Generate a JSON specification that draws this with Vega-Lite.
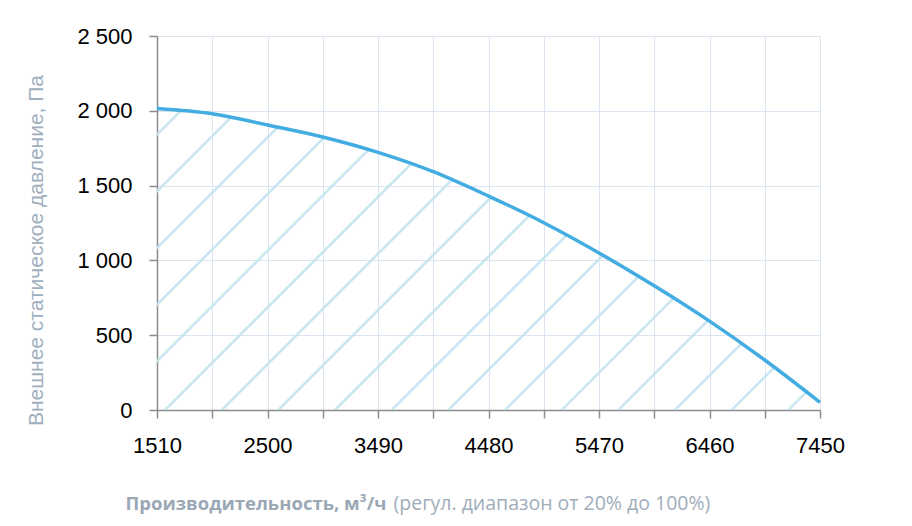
{
  "$schema": "https://vega.github.io/schema/vega-lite/v6.json",
  "width": 663,
  "height": 374,
  "autosize": {"type": "none"},
  "padding": {"left": 157, "top": 36, "right": 92, "bottom": 116},
  "background": "white",
  "config": {
    "view": {"stroke": null},
    "locale": {"number": {"decimal": ",", "thousands": " ", "grouping": [3], "currency": ["", ""]}}
  },
  "data": {
    "values": [
      {"flow": 1510, "pressure": 2015},
      {"flow": 2005, "pressure": 1980},
      {"flow": 2500, "pressure": 1905},
      {"flow": 2995, "pressure": 1825},
      {"flow": 3490, "pressure": 1722},
      {"flow": 3985, "pressure": 1593},
      {"flow": 4480, "pressure": 1430},
      {"flow": 4975, "pressure": 1252},
      {"flow": 5470, "pressure": 1050},
      {"flow": 5965, "pressure": 830},
      {"flow": 6460, "pressure": 594},
      {"flow": 6955, "pressure": 334},
      {"flow": 7450, "pressure": 51}
    ]
  },
  "encoding": {
    "y": {
      "field": "pressure",
      "type": "quantitative",
      "scale": {"domain": [0, 2500], "nice": false},
      "axis": {
        "values": [0, 500, 1000, 1500, 2000, 2500],
        "format": ",d",
        "grid": true,
        "gridColor": "#dbe5f1",
        "gridWidth": 1,
        "domainColor": "#8c8c8c",
        "domainWidth": 1.5,
        "tickColor": "#8c8c8c",
        "tickWidth": 1.5,
        "tickSize": 8,
        "labelFont": "Liberation Sans",
        "labelFontSize": 22,
        "labelColor": "#000000",
        "labelPadding": 17,
        "labelFlush": false,
        "title": "Внешнее статическое давление, Па",
        "titleFont": "Liberation Sans",
        "titleFontSize": 21,
        "titleFontWeight": "normal",
        "titleColor": "#a0afbe",
        "titleAlign": "center",
        "titleBaseline": "middle",
        "titleX": -121,
        "titleY": 214
      }
    }
  },
  "layer": [
    {
      "mark": {
        "type": "area",
        "interpolate": "monotone",
        "fill": {
          "gradient": "linear",
          "x1": 0, "y1": 0, "x2": 1.2055, "y2": 0.5481,
          "stops": [
            {"offset": 0, "color": "rgba(200,228,238,0)"},
            {"offset": 0.02425, "color": "rgba(200,228,238,0)"}, {"offset": 0.02615, "color": "#c8e4ee"}, {"offset": 0.02795, "color": "#c8e4ee"}, {"offset": 0.02985, "color": "rgba(200,228,238,0)"},
            {"offset": 0.08301, "color": "rgba(200,228,238,0)"}, {"offset": 0.08491, "color": "#c8e4ee"}, {"offset": 0.08671, "color": "#c8e4ee"}, {"offset": 0.08861, "color": "rgba(200,228,238,0)"},
            {"offset": 0.14177, "color": "rgba(200,228,238,0)"}, {"offset": 0.14367, "color": "#c8e4ee"}, {"offset": 0.14547, "color": "#c8e4ee"}, {"offset": 0.14737, "color": "rgba(200,228,238,0)"},
            {"offset": 0.20053, "color": "rgba(200,228,238,0)"}, {"offset": 0.20243, "color": "#c8e4ee"}, {"offset": 0.20423, "color": "#c8e4ee"}, {"offset": 0.20613, "color": "rgba(200,228,238,0)"},
            {"offset": 0.25929, "color": "rgba(200,228,238,0)"}, {"offset": 0.26119, "color": "#c8e4ee"}, {"offset": 0.26299, "color": "#c8e4ee"}, {"offset": 0.26489, "color": "rgba(200,228,238,0)"},
            {"offset": 0.31805, "color": "rgba(200,228,238,0)"}, {"offset": 0.31995, "color": "#c8e4ee"}, {"offset": 0.32175, "color": "#c8e4ee"}, {"offset": 0.32365, "color": "rgba(200,228,238,0)"},
            {"offset": 0.37681, "color": "rgba(200,228,238,0)"}, {"offset": 0.37871, "color": "#c8e4ee"}, {"offset": 0.38051, "color": "#c8e4ee"}, {"offset": 0.38241, "color": "rgba(200,228,238,0)"},
            {"offset": 0.43557, "color": "rgba(200,228,238,0)"}, {"offset": 0.43747, "color": "#c8e4ee"}, {"offset": 0.43927, "color": "#c8e4ee"}, {"offset": 0.44117, "color": "rgba(200,228,238,0)"},
            {"offset": 0.49433, "color": "rgba(200,228,238,0)"}, {"offset": 0.49623, "color": "#c8e4ee"}, {"offset": 0.49803, "color": "#c8e4ee"}, {"offset": 0.49993, "color": "rgba(200,228,238,0)"},
            {"offset": 0.55309, "color": "rgba(200,228,238,0)"}, {"offset": 0.55499, "color": "#c8e4ee"}, {"offset": 0.55679, "color": "#c8e4ee"}, {"offset": 0.55869, "color": "rgba(200,228,238,0)"},
            {"offset": 0.61185, "color": "rgba(200,228,238,0)"}, {"offset": 0.61375, "color": "#c8e4ee"}, {"offset": 0.61555, "color": "#c8e4ee"}, {"offset": 0.61745, "color": "rgba(200,228,238,0)"},
            {"offset": 0.67061, "color": "rgba(200,228,238,0)"}, {"offset": 0.67251, "color": "#c8e4ee"}, {"offset": 0.67431, "color": "#c8e4ee"}, {"offset": 0.67621, "color": "rgba(200,228,238,0)"},
            {"offset": 0.72937, "color": "rgba(200,228,238,0)"}, {"offset": 0.73127, "color": "#c8e4ee"}, {"offset": 0.73307, "color": "#c8e4ee"}, {"offset": 0.73497, "color": "rgba(200,228,238,0)"},
            {"offset": 0.78813, "color": "rgba(200,228,238,0)"}, {"offset": 0.79003, "color": "#c8e4ee"}, {"offset": 0.79183, "color": "#c8e4ee"}, {"offset": 0.79373, "color": "rgba(200,228,238,0)"},
            {"offset": 0.84689, "color": "rgba(200,228,238,0)"}, {"offset": 0.84879, "color": "#c8e4ee"}, {"offset": 0.85059, "color": "#c8e4ee"}, {"offset": 0.85249, "color": "rgba(200,228,238,0)"},
            {"offset": 0.90565, "color": "rgba(200,228,238,0)"}, {"offset": 0.90755, "color": "#c8e4ee"}, {"offset": 0.90935, "color": "#c8e4ee"}, {"offset": 0.91125, "color": "rgba(200,228,238,0)"},
            {"offset": 0.96441, "color": "rgba(200,228,238,0)"}, {"offset": 0.96631, "color": "#c8e4ee"}, {"offset": 0.96811, "color": "#c8e4ee"}, {"offset": 0.97001, "color": "rgba(200,228,238,0)"},
            {"offset": 1, "color": "rgba(200,228,238,0)"}
          ]
        }
      },
      "encoding": {
        "x": {
          "field": "flow",
          "type": "quantitative",
          "scale": {"domain": [1510, 7450], "nice": false, "zero": false},
          "axis": {
            "values": [1510, 2005, 2500, 2995, 3490, 3985, 4480, 4975, 5470, 5965, 6460, 6955, 7450],
            "format": "d",
            "labelExpr": "(datum.value - 1510) % 990 == 0 ? datum.label : ''",
            "grid": true,
            "gridColor": "#dbe5f1",
            "gridWidth": 1,
            "domainColor": "#8c8c8c",
            "domainWidth": 1.5,
            "tickColor": "#8c8c8c",
            "tickWidth": 1.5,
            "tickSize": 8,
            "labelFont": "Liberation Sans",
            "labelFontSize": 22,
            "labelColor": "#000000",
            "labelPadding": 17,
            "labelFlush": false,
            "labelOverlap": false,
            "title": "Производительность, м³/ч",
            "titleFont": "Open Sans",
            "titleFontSize": 18.5,
            "titleFontWeight": "bold",
            "titleColor": "#9aa8b6",
            "titleAlign": "left",
            "titleBaseline": "alphabetic",
            "titleX": -32,
            "titleY": 99.3
          }
        }
      }
    },
    {
      "mark": {"type": "line", "interpolate": "monotone", "color": "#43ade2", "strokeWidth": 3.5},
      "encoding": {
        "x": {
          "field": "flow",
          "type": "quantitative",
          "axis": {
            "title": "(регул. диапазон от 20% до 100%)",
            "domain": false,
            "ticks": false,
            "labels": false,
            "grid": false,
            "titleFont": "Open Sans",
            "titleFontSize": 19.5,
            "titleFontWeight": "normal",
            "titleColor": "#9fadba",
            "titleAlign": "left",
            "titleBaseline": "alphabetic",
            "titleX": 236,
            "titleY": 473.3
          }
        }
      }
    }
  ],
  "resolve": {"axis": {"x": "independent"}}
}
